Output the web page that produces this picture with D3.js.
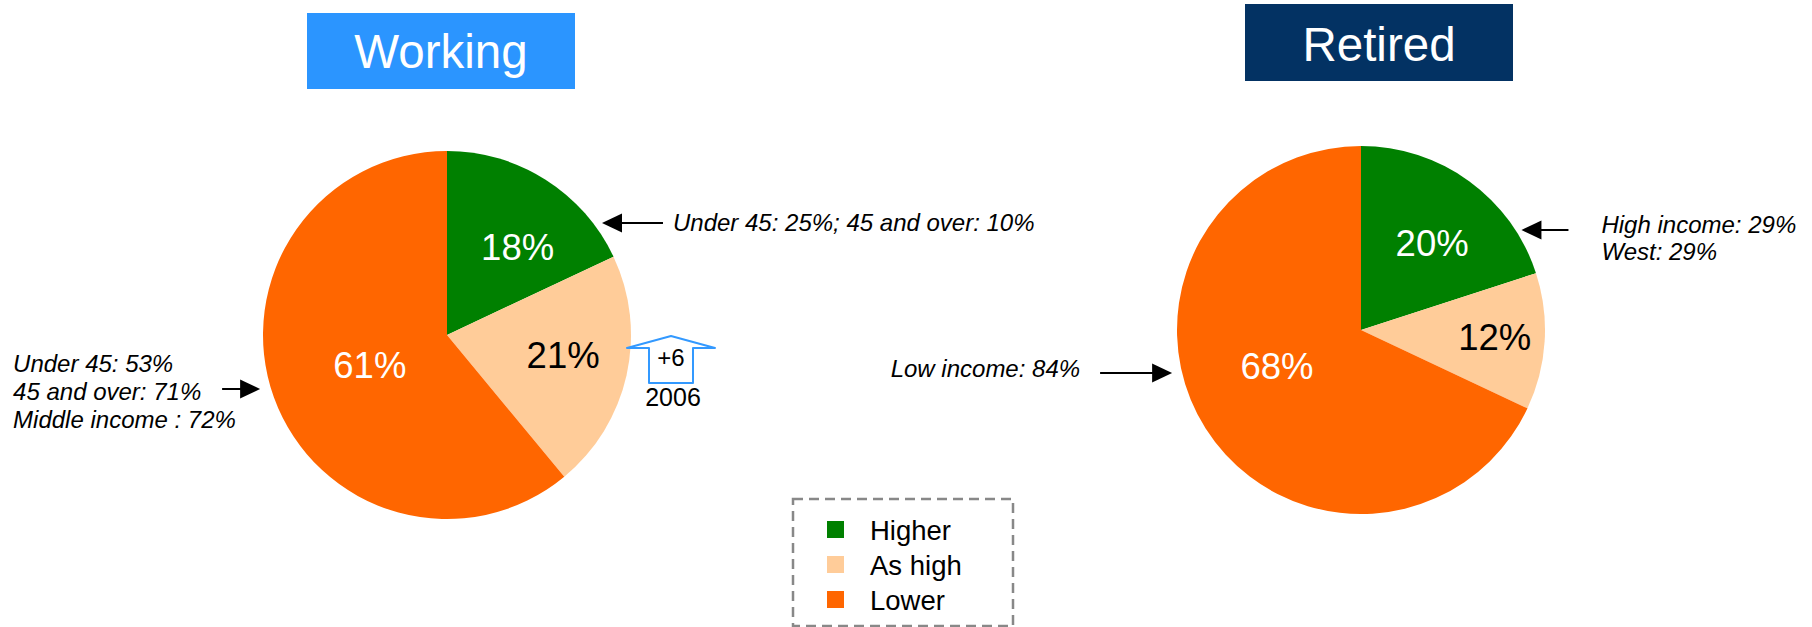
<!DOCTYPE html>
<html>
<head>
<meta charset="utf-8">
<script src="https://cdn.jsdelivr.net/npm/d3@7"></script>
<style>
  body { margin: 0; background: #fff; }
  svg { display: block; }
  text { font-family: "Liberation Sans", Arial, Helvetica, sans-serif; }
</style>
</head>
<body>
<svg id="chart" width="1812" height="627"></svg>
<script>
// ---- data ----
const categories = ["Higher", "As high", "Lower"];
const workingValues = [18, 21, 61];
const retiredValues = [20, 12, 68];
const panelTitles = ["Working", "Retired"];

const workingHigherNote = ["Under 45: 25%; 45 and over: 10%"];
const workingLowerNote = ["Under 45: 53%", "45 and over: 71%", "Middle income : 72%"];
const retiredHigherNote = ["High income: 29%", "West: 29%"];
const retiredLowerNote = ["Low income: 84%"];
const asHighChange = ["+6", "2006"];

// ---- styling ----
const sliceColors = ["#008000", "#FFCC99", "#FF6600"];
const labelColors = ["#ffffff", "#000000", "#ffffff"];
const radius = 184;

const svg = d3.select("#chart");

const color = d3.scaleOrdinal().domain(categories).range(sliceColors);
const labelColor = d3.scaleOrdinal().domain(categories).range(labelColors);

const pie = d3.pie().sort(null).value(d => d.value);
const arc = d3.arc().innerRadius(0).outerRadius(radius);

// panel layout: centre of each pie, its heading box, label placement and side notes
const panels = [
  {
    title: panelTitles[0], values: workingValues, cx: 447, cy: 335,
    box: { x: 307, y: 13, w: 268, h: 76, fill: "#2B95FF", baseline: 68 },
    labelPlace: [{ r: 0.614, da: 6.3 }, { r: 0.641, da: -2.6 }, { r: 0.451, da: -1.8 }],
    notes: [
      { lines: workingHigherNote, dy: -112, gap: 9, len: 61, side: "right", textDx: 10, anchor: "start", firstDy: 8, lineH: 28 },
      { lines: workingLowerNote, dy: 54, gap: 11, len: 38, side: "left", textDx: -209, anchor: "start", firstDy: -17, lineH: 28 }
    ]
  },
  {
    title: panelTitles[1], values: retiredValues, cx: 1361, cy: 330,
    box: { x: 1245, y: 4, w: 268, h: 77, fill: "#033263", baseline: 61 },
    labelPlace: [{ r: 0.609, da: 3.4 }, { r: 0.728, da: -0.4 }, { r: 0.498, da: 8.9 }],
    notes: [
      { lines: retiredHigherNote, dy: -100, gap: 6, len: 47, side: "right", textDx: 33, anchor: "start", firstDy: 3, lineH: 27 },
      { lines: retiredLowerNote, dy: 43, gap: 10, len: 72, side: "left", textDx: -20, anchor: "end", firstDy: 4, lineH: 28 }
    ]
  }
];

// horizontal arrow with a filled triangular head
function drawArrow(g, x1, y, x2) {
  const dir = x2 > x1 ? 1 : -1;
  const headLen = 20, headHalf = 9.5;
  g.append("line")
    .attr("x1", x1).attr("y1", y)
    .attr("x2", x2 - dir * headLen + dir * 2).attr("y2", y)
    .attr("stroke", "#000").attr("stroke-width", 2);
  g.append("path")
    .attr("d", `M${x2},${y} L${x2 - dir * headLen},${y - headHalf} L${x2 - dir * headLen},${y + headHalf} Z`)
    .attr("fill", "#000");
}

panels.forEach(p => {
  const data = categories.map((c, i) => ({ category: c, value: p.values[i] }));
  const arcs = pie(data);

  // heading box
  svg.append("rect")
    .attr("x", p.box.x).attr("y", p.box.y)
    .attr("width", p.box.w).attr("height", p.box.h)
    .attr("fill", p.box.fill);
  svg.append("text")
    .attr("x", p.box.x + p.box.w / 2).attr("y", p.box.baseline)
    .attr("text-anchor", "middle")
    .attr("font-size", 47.5)
    .attr("fill", "#fff")
    .text(p.title);

  const g = svg.append("g").attr("transform", `translate(${p.cx},${p.cy})`);

  g.selectAll("path.slice")
    .data(arcs)
    .join("path")
    .attr("class", "slice")
    .attr("d", arc)
    .attr("fill", d => color(d.data.category));

  // percentage labels
  g.selectAll("text.pct")
    .data(arcs)
    .join("text")
    .attr("class", "pct")
    .attr("transform", (d, i) => {
      const lp = p.labelPlace[i];
      const a = (d.startAngle + d.endAngle) / 2 + lp.da * Math.PI / 180;
      const r = radius * lp.r;
      return `translate(${r * Math.sin(a)},${-r * Math.cos(a)})`;
    })
    .attr("text-anchor", "middle")
    .attr("dy", "0.35em")
    .attr("font-size", 36.5)
    .attr("fill", d => labelColor(d.data.category))
    .text(d => d.data.value + "%");

  // side notes with arrows pointing at the pie
  p.notes.forEach(n => {
    const edge = Math.sqrt(radius * radius - n.dy * n.dy);
    const y = p.cy + n.dy;
    const sgn = n.side === "right" ? 1 : -1;
    const tip = p.cx + sgn * (edge + n.gap);
    const tail = tip + sgn * n.len;
    drawArrow(svg, tail, y, tip);
    const t = svg.append("text")
      .attr("font-size", 24)
      .attr("font-style", "italic")
      .attr("fill", "#000")
      .attr("text-anchor", n.anchor);
    n.lines.forEach((line, k) => {
      t.append("tspan")
        .attr("x", tail + n.textDx)
        .attr("y", y + n.firstDy + k * n.lineH)
        .text(line);
    });
  });
});

// change marker next to the "As high" slice of the working pie
{
  const ax = panels[0].cx + 224, ay = panels[0].cy + 1;
  const shape = [[0, 0], [44, 12], [22, 12], [22, 47], [-22, 47], [-22, 12], [-44, 12]];
  svg.append("path")
    .attr("d", d3.line()(shape.map(([x, y]) => [ax + x, ay + y])) + "Z")
    .attr("fill", "#fff")
    .attr("stroke", "#3399FF")
    .attr("stroke-width", 2)
    .attr("stroke-linejoin", "round");
  svg.append("text")
    .attr("x", ax).attr("y", ay + 30)
    .attr("text-anchor", "middle")
    .attr("font-size", 24)
    .text(asHighChange[0]);
  svg.append("text")
    .attr("x", ax + 2).attr("y", ay + 70)
    .attr("text-anchor", "middle")
    .attr("font-size", 25)
    .text(asHighChange[1]);
}

// legend
{
  const lg = svg.append("g");
  lg.append("rect")
    .attr("x", 793).attr("y", 499)
    .attr("width", 220).attr("height", 127)
    .attr("fill", "none")
    .attr("stroke", "#888")
    .attr("stroke-width", 2.5)
    .attr("stroke-dasharray", "10,6");
  const step = 35;
  const items = lg.selectAll("g.item")
    .data(categories)
    .join("g")
    .attr("class", "item")
    .attr("transform", (d, i) => `translate(827,${521 + i * step})`);
  items.append("rect")
    .attr("width", 17).attr("height", 17)
    .attr("fill", d => color(d));
  items.append("text")
    .attr("x", 43).attr("y", 19)
    .attr("font-size", 27.5)
    .attr("fill", "#000")
    .text(d => d);
}
</script>
</body>
</html>
